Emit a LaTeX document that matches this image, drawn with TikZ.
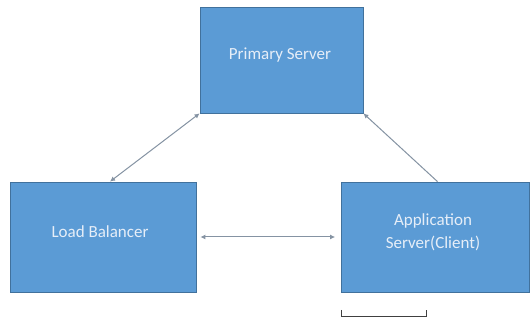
\documentclass[tikz,border=0pt]{standalone}
\usepackage{fontspec}
\setmainfont{Carlito}
\usetikzlibrary{arrows.meta}
\definecolor{boxfill}{HTML}{5B9BD5}
\definecolor{boxline}{HTML}{41719C}
\definecolor{arrowc}{HTML}{8593A3}
\definecolor{txtc}{HTML}{E6EEF8}
\begin{document}
\begin{tikzpicture}[x=1pt,y=1pt,
  box/.style={draw=boxline,fill=boxfill,line width=0.8pt,rectangle,inner sep=0pt},
  lbl/.style={text=txtc,font=\fontsize{17}{23}\selectfont,align=center,inner sep=0pt},
  conn/.style={draw=arrowc,line width=1pt}]
\useasboundingbox (0,0) rectangle (530,320);
\fill[white] (0,0) rectangle (530,320);
\node[box,minimum width=163pt,minimum height=106pt] (ps) at (281.5,260) {};
\node[box,minimum width=186pt,minimum height=110pt] (lb) at (103,83) {};
\node[box,minimum width=188pt,minimum height=110pt] (as) at (435.5,83) {};
\node[lbl] (pst) at (280,265) {Primary Server};
\node[lbl] (lbt) at (100,88) {Load Balancer};
\node[lbl] (ast) at (433,88) {Application\\Server(Client)};
\draw[conn,{Latex[length=5pt,width=5pt]}-{Latex[length=5pt,width=5pt]}] ([xshift=7pt]lb.north) -- (ps.south west);
\draw[conn,-{Latex[length=5pt,width=5pt]}] ([xshift=2pt]as.north) -- (ps.south east);
\draw[conn,{Latex[length=5pt,width=5pt]}-{Latex[length=5pt,width=5pt]}] ([xshift=4pt]lb.east) -- ([xshift=-6pt]as.west);
\coordinate (b1) at (341,10);
\coordinate (b2) at (341,4);
\coordinate (b3) at (426,4);
\coordinate (b4) at (426,10);
\draw[draw=black!75,line width=0.8pt] (b1) -- (b2) -- (b3) -- (b4);
\end{tikzpicture}
\end{document}
